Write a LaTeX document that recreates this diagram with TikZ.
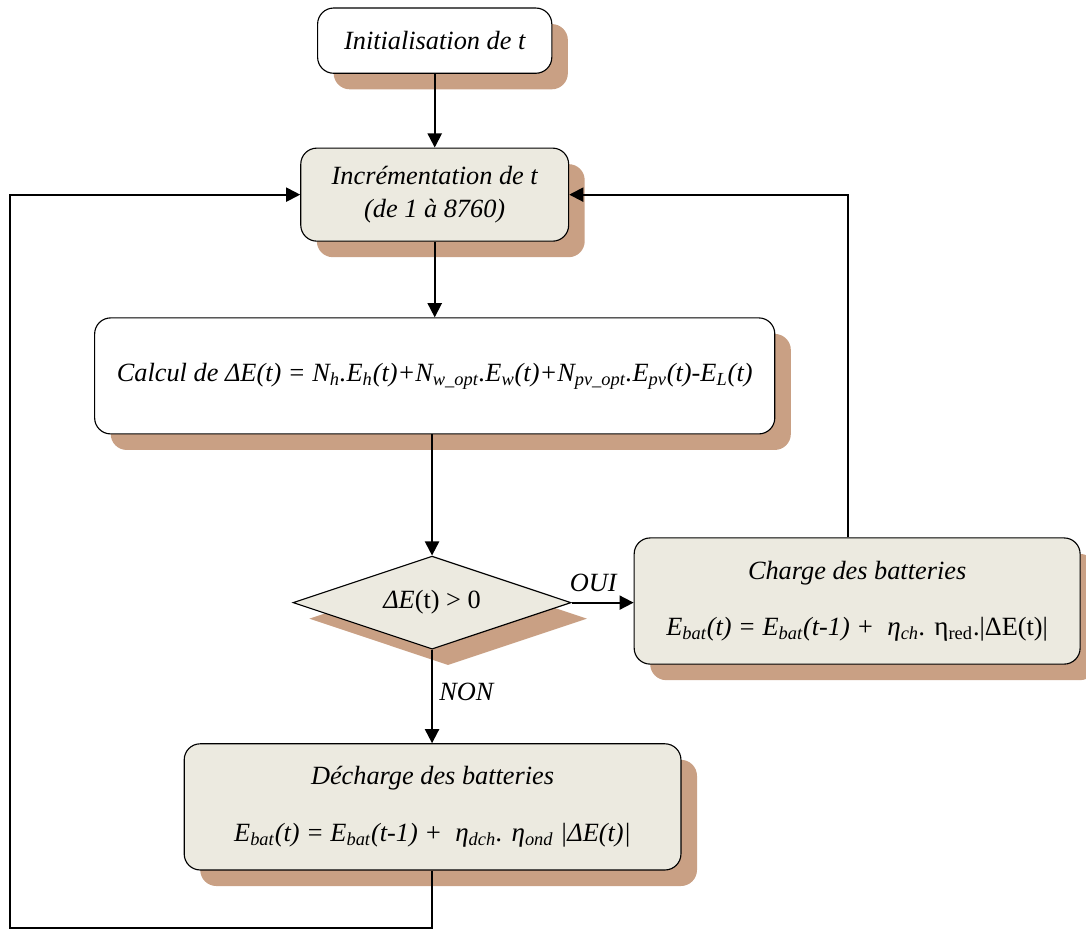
\documentclass[tikz,border=0pt]{standalone}
\usepackage{fontspec}
\setmainfont{Liberation Serif}
\usepackage{tikz}
\usetikzlibrary{shapes.geometric, arrows.meta, shadows}
\definecolor{ombre}{RGB}{201,160,132}
\definecolor{beige}{RGB}{236,234,224}
\tikzset{
  boite/.style={rectangle, rounded corners=0.3cm, draw=black, line width=0.6pt, align=center, font=\fontsize{14}{18}\selectfont\itshape, drop shadow={shadow xshift=0.3cm, shadow yshift=-0.3cm, fill=ombre, opacity=1}},
  test/.style={diamond, aspect=3, inner sep=0pt, draw=black, line width=0.6pt, fill=beige, font=\fontsize{14}{18}\selectfont, drop shadow={shadow xshift=0.3cm, shadow yshift=-0.3cm, fill=ombre, opacity=1}},
  arrowline/.style={-{Triangle[length=7.5pt, width=7.5pt]}, line width=1pt},
  etiquette/.style={font=\fontsize{14}{18}\selectfont\itshape},
}
\newcommand{\ind}[1]{\textsubscript{#1}}

\begin{document}
\begin{tikzpicture}
\useasboundingbox (0,0) rectangle (20.31,-17.37);

\node[boite, fill=white, minimum width=4.38cm, minimum height=1.22cm] (init) at (8.13,-0.76) {Initialisation de t};
\node[boite, fill=beige, minimum width=5.01cm, minimum height=1.74cm] (incr) at (8.13,-3.64) {Incrémentation de t\\(de 1 à 8760)};
\node[boite, fill=white, minimum width=12.72cm, minimum height=2.17cm] (calcul) at (8.13,-7.03) {Calcul de \textit{ΔE}(t) = N\ind{h}.E\ind{h}(t)+N\ind{w\_opt}.E\ind{w}(t)+N\ind{pv\_opt}.E\ind{pv}(t)-E\ind{L}(t)};
\node[test, minimum width=5.2cm, minimum height=1.74cm] (delta) at (8.08,-11.27) {\textit{ΔE}(t) > 0};
\node[boite, fill=beige, minimum width=8.34cm, minimum height=2.36cm] (charge) at (16.03,-11.24) {Charge des batteries\\[12pt]E\ind{bat}(t) = E\ind{bat}(t-1) + \ {\Large η}\ind{ch}. \upshape{\Large η}\ind{red}.|ΔE(t)|};
\node[boite, fill=beige, minimum width=9.29cm, minimum height=2.36cm] (decharge) at (8.09,-15.09) {Décharge des batteries\\[12pt]E\ind{bat}(t) = E\ind{bat}(t-1) + \ {\Large η}\ind{dch}. {\Large η}\ind{ond} |ΔE(t)|};

\coordinate (coinbas) at (0.19,-17.35);
\coordinate (coinhaut) at (15.86,-3.64);

\draw[arrowline] (init) -- (incr);
\draw[arrowline] (incr) -- (calcul);
\draw[arrowline] (calcul.south -| delta.north) -- (delta);
\draw[arrowline] (delta.east) -- node[above, pos=0.35, yshift=2pt, etiquette] {OUI} (charge.west |- delta.east);
\draw[arrowline] (delta.south) -- node[right, pos=0.45, etiquette] {NON} (delta.south |- decharge.north);
\draw[arrowline] (decharge.south -| delta.south) |- (coinbas) |- (incr.west);
\draw[arrowline] (charge.north -| coinhaut) |- (incr.east);
\end{tikzpicture}
\end{document}
